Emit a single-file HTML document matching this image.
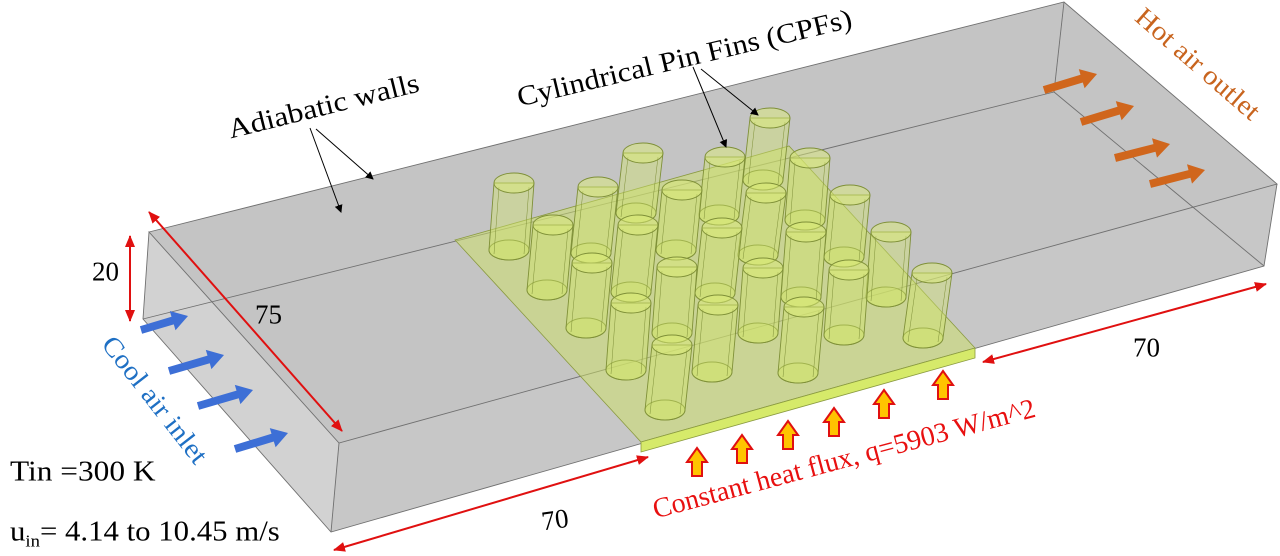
<!DOCTYPE html>
<html><head><meta charset="utf-8"><style>
html,body{margin:0;padding:0;background:#fff;}
#w{position:relative;width:1280px;height:556px;overflow:hidden;}
svg{display:block;position:absolute;left:0;top:0;}
.t{position:absolute;white-space:nowrap;font-family:"Liberation Serif","Times New Roman",serif;line-height:1;transform-origin:0 0;}
sub{font-size:17px;vertical-align:-6px;line-height:0;}
</style></head><body><div id="w">
<svg width="1280" height="556" viewBox="0 0 1280 556" xmlns="http://www.w3.org/2000/svg">
<defs>
<marker id="ka" markerWidth="8" markerHeight="8" refX="7" refY="4" orient="auto" markerUnits="userSpaceOnUse"><path d="M0,0 L8,4 L0,8 z" fill="#000"/></marker>
<marker id="ra" markerWidth="12" markerHeight="10" refX="11" refY="5" orient="auto-start-reverse" markerUnits="userSpaceOnUse"><path d="M0,0 L12,5 L0,10 z" fill="#e01010"/></marker>
</defs>
<polygon points="149,232 1064,2 1277,184 1264,266 331,532 143,319" fill="#c7c7c7"/>
<polygon points="149,232 339,443 331,532 143,319" fill="#d2d2d2"/>
<polygon points="149,232 1064,2 1277,184 339,443" fill="#c4c4c4"/>
<g stroke="#707070" stroke-width="0.9" fill="none">
<polyline points="149,232 1064,2 1277,184 339,443 149,232 143,319 331,532 1264,266 1277,184"/>
<line x1="339" y1="443" x2="331" y2="532"/>
<line x1="143" y1="319" x2="1054" y2="92"/>
<line x1="1064" y1="2" x2="1054" y2="92"/>
<line x1="1054" y1="92" x2="1264" y2="266"/>
</g>
<polygon points="455,240 789,146 975,348 641,442" fill="rgba(205,225,100,0.5)" stroke="#8a9a40" stroke-width="0.8"/>
<polygon points="641,442 975,348 975,358 641,452" fill="#d6ea6a" stroke="#8a9a40" stroke-width="0.8"/>
<g id="fins" fill="rgba(210,228,110,0.42)" stroke="#7f9038" stroke-width="0.9"></g>
<line x1="310" y1="128" x2="341" y2="212" stroke="#000" marker-end="url(#ka)"/>
<line x1="316" y1="129" x2="373" y2="179" stroke="#000" marker-end="url(#ka)"/>
<line x1="693" y1="67" x2="726" y2="147" stroke="#000" marker-end="url(#ka)"/>
<line x1="701" y1="69" x2="758" y2="115" stroke="#000" marker-end="url(#ka)"/>
<g stroke="#e01010" stroke-width="2">
<line x1="130" y1="236" x2="130" y2="321" marker-start="url(#ra)" marker-end="url(#ra)"/>
<line x1="149" y1="212" x2="342" y2="431" marker-start="url(#ra)" marker-end="url(#ra)"/>
<line x1="334" y1="550" x2="648" y2="457" marker-start="url(#ra)" marker-end="url(#ra)"/>
<line x1="983" y1="362" x2="1266" y2="284" marker-start="url(#ra)" marker-end="url(#ra)"/>
</g>
<g id="arr"></g>
</svg>
<div class="t" style="left:231px;top:140px;font-size:28px;transform:rotate(-14deg) scaleX(1.12) translateY(-0.84em)">Adiabatic walls</div>
<div class="t" style="left:520px;top:108px;font-size:28px;transform:rotate(-13.4deg) scaleX(1.1) translateY(-0.84em)">Cylindrical Pin Fins (CPFs)</div>
<div class="t" style="left:1133px;top:20px;font-size:27px;color:#c8641e;transform:rotate(41deg) scaleX(1.08) translateY(-0.84em)">Hot air outlet</div>
<div class="t" style="left:100px;top:345px;font-size:27px;color:#1f70c4;transform:rotate(52deg) scaleX(1.08) translateY(-0.84em)">Cool air inlet</div>
<div class="t" style="left:92px;top:281px;font-size:27px;transform:translateY(-0.84em)">20</div>
<div class="t" style="left:255px;top:324px;font-size:27px;transform:translateY(-0.84em)">75</div>
<div class="t" style="left:1133px;top:357px;font-size:27px;transform:translateY(-0.84em)">70</div>
<div class="t" style="left:543px;top:531px;font-size:27px;transform:rotate(-8deg) translateY(-0.84em)">70</div>
<div class="t" style="left:10px;top:482px;font-size:28px;transform:scaleX(1.12) translateY(-0.84em)">Tin =300 K</div>
<div class="t" style="left:10px;top:542px;font-size:28px;transform:scaleX(1.1) translateY(-0.84em)">u<sub>in</sub>= 4.14 to 10.45 m/s</div>
<div class="t" style="left:656px;top:520px;font-size:28px;color:#e81010;transform:rotate(-15deg) translateY(-0.84em)">Constant heat flux, q=5903 W/m^2</div>
</div>
<script>
var fins=[[514,183,509,250],[553,225,547,290],[598,187,591,253],[643,153,636,213],[592,263,586,328],[638,225,631,292],[682,190,676,250],[725,157,719,215],[770,118,763,180],[631,303,626,370],[677,267,672,333],[722,228,715,293],[766,193,758,255],[810,158,805,220],[672,345,665,410],[718,305,712,372],[763,268,758,333],[806,232,801,297],[850,195,844,257],[804,307,798,373],[849,270,844,335],[891,232,886,297],[932,273,923,338]];
fins.sort(function(a,b){return a[3]-b[3];});
var NS="http://www.w3.org/2000/svg",g=document.getElementById("fins");
function el(t,a,p){var e=document.createElementNS(NS,t);for(var k in a)e.setAttribute(k,a[k]);(p||g).appendChild(e);return e;}
var rx=20,ry=10;
fins.forEach(function(f){
 el("ellipse",{cx:f[2],cy:f[3],rx:rx,ry:ry});
 el("path",{d:"M"+(f[0]-rx)+","+f[1]+" L"+(f[2]-rx)+","+f[3]+" A"+rx+","+ry+" 0 0 0 "+(f[2]+rx)+","+f[3]+" L"+(f[0]+rx)+","+f[1]+" Z"});
 el("line",{x1:f[0]-rx+5,y1:f[1]+4,x2:f[2]-rx+5,y2:f[3]+4,"stroke-width":0.5});
 el("line",{x1:f[0]+rx-5,y1:f[1]+4,x2:f[2]+rx-5,y2:f[3]+4,"stroke-width":0.5});
 el("ellipse",{cx:f[0],cy:f[1],rx:rx,ry:ry,fill:"rgba(220,235,120,0.5)"});
});
var a=document.getElementById("arr");
function fat(x1,y1,x2,y2,c){var dx=x2-x1,dy=y2-y1,L=Math.hypot(dx,dy),ux=dx/L,uy=dy/L,nx=-uy,ny=ux,h=16,w=4,W=10;
 var bx=x2-ux*h,by=y2-uy*h;
 var p=[[x1+nx*w,y1+ny*w],[bx+nx*w,by+ny*w],[bx+nx*W,by+ny*W],[x2,y2],[bx-nx*W,by-ny*W],[bx-nx*w,by-ny*w],[x1-nx*w,y1-ny*w]];
 el("polygon",{points:p.map(function(q){return q[0].toFixed(1)+","+q[1].toFixed(1)}).join(" "),fill:c},a);}
[[141,330,188,316],[169,371,224,355],[198,406,253,390],[235,449,288,433]].forEach(function(v){fat(v[0],v[1],v[2],v[3],"#3d6fd6");});
[[1044,90,1097,74],[1081,122,1134,106],[1115,158,1170,144],[1150,184,1205,170]].forEach(function(v){fat(v[0],v[1],v[2],v[3],"#d0661c");});
[[697,462],[742,449],[788,435],[834,422],[884,404],[943,385]].forEach(function(v){var x=v[0],y=v[1];
 el("polygon",{points:(x-5)+","+(y+14)+" "+(x-5)+","+y+" "+(x-10)+","+y+" "+x+","+(y-14)+" "+(x+10)+","+y+" "+(x+5)+","+y+" "+(x+5)+","+(y+14),fill:"#ffc400",stroke:"#e01010","stroke-width":2},a);});
</script>
</body></html>
